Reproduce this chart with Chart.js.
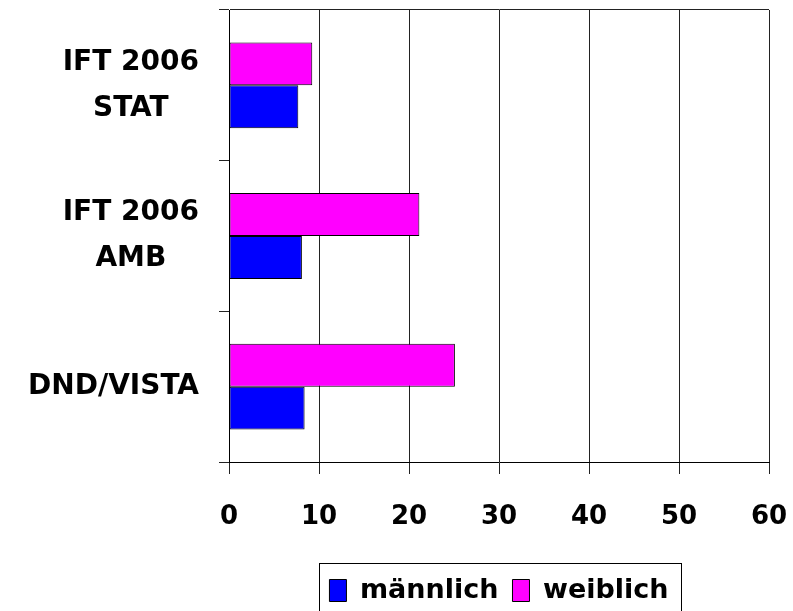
<!DOCTYPE html>
<html>
<head>
<meta charset="utf-8">
<script src="https://cdn.jsdelivr.net/npm/chart.js@4.4.0/dist/chart.umd.min.js"></script>
<style>
  html, body { margin: 0; padding: 0; background: #fff; }
  #wrap { width: 793px; height: 611px; }
</style>
</head>
<body>
<div id="wrap"><canvas id="chart"></canvas></div>
<script>
const categories = [['IFT 2006', 'STAT'], ['IFT 2006', 'AMB'], ['DND/VISTA']];
const seriesNames = ['männlich', 'weiblich'];
const maleValues = [7.7, 8.1, 8.4];
const femaleValues = [9.25, 21.15, 25.1];
const xTicks = [0, 10, 20, 30, 40, 50, 60];

const font = 'DejaVu Sans';

// category names: each label right-aligned to the axis, its lines centred
const categoryLabels = {
    id: 'categoryLabels',
    afterDraw(chart) {
        const ctx = chart.ctx;
        const y = chart.scales.y;
        ctx.save();
        ctx.font = 'bold 28px "' + font + '"';
        ctx.fillStyle = '#000';
        ctx.textAlign = 'center';
        ctx.textBaseline = 'middle';
        categories.forEach((lines, i) => {
            const mid = y.getPixelForTick(i);
            const widest = Math.max(...lines.map(t => ctx.measureText(t).width));
            const cx = y.right - 30 - widest / 2;
            lines.forEach((t, j) => {
                ctx.fillText(t, cx, mid + (j - (lines.length - 1) / 2) * 46);
            });
        });
        ctx.restore();
    }
};

// frame round the legend, like the original
const legendFrame = {
    id: 'legendFrame',
    afterDraw(chart) {
        const lg = chart.legend;
        const boxes = lg.legendHitBoxes;
        if (!boxes || !boxes.length) return;
        const first = boxes[0];
        const last = boxes[boxes.length - 1];
        const left = Math.round(first.left - 10) + 0.5;
        const right = Math.round(last.left + last.width + 12) + 0.5;
        const ctx = chart.ctx;
        ctx.save();
        ctx.strokeStyle = '#000';
        ctx.lineWidth = 1;
        ctx.strokeRect(left, Math.round(lg.top) + 0.5, right - left, chart.height);
        ctx.restore();
    }
};

new Chart(document.getElementById('chart'), {
    type: 'bar',
    data: {
        labels: categories,
        datasets: [
            {
                label: seriesNames[1],
                data: femaleValues,
                backgroundColor: '#ff00ff',
                borderColor: '#000',
                borderWidth: 1,
                borderSkipped: false,
                categoryPercentage: 0.57,
                barPercentage: 1,
            },
            {
                label: seriesNames[0],
                data: maleValues,
                backgroundColor: '#0000ff',
                borderColor: '#000',
                borderWidth: 1,
                borderSkipped: false,
                categoryPercentage: 0.57,
                barPercentage: 1,
            },
        ],
    },
    options: {
        indexAxis: 'y',
        responsive: true,
        maintainAspectRatio: false,
        animation: false,
        layout: { padding: { top: 10, right: 24, bottom: -3, left: 0 } },
        scales: {
            x: {
                min: xTicks[0],
                max: xTicks[xTicks.length - 1],
                ticks: {
                    stepSize: xTicks[1] - xTicks[0],
                    color: '#000',
                    padding: 28,
                    maxRotation: 0,
                    font: { family: font, size: 26, weight: 'bold' },
                },
                grid: { color: '#222', tickColor: '#222', tickLength: 12 },
                border: { color: '#000' },
                afterFit: s => {
                    s.height = 101;
                    s.paddingLeft = 0;
                    s.paddingRight = 0;
                },
            },
            y: {
                ticks: { display: false },
                grid: {
                    offset: true,
                    tickLength: 10,
                    tickColor: '#222',
                    color: c => (c.index === 0 ? '#222' : 'rgba(0,0,0,0)'),
                },
                border: { color: '#000' },
                afterFit: s => { s.width = 229; },
            },
        },
        plugins: {
            legend: {
                position: 'bottom',
                fullSize: false,
                reverse: true,
                labels: {
                    boxWidth: 17,
                    boxHeight: 22,
                    padding: 14,
                    color: '#000',
                    font: { family: font, size: 27, weight: 'bold' },
                },
            },
            tooltip: { enabled: false },
        },
    },
    plugins: [categoryLabels, legendFrame],
});
</script>
</body>
</html>
